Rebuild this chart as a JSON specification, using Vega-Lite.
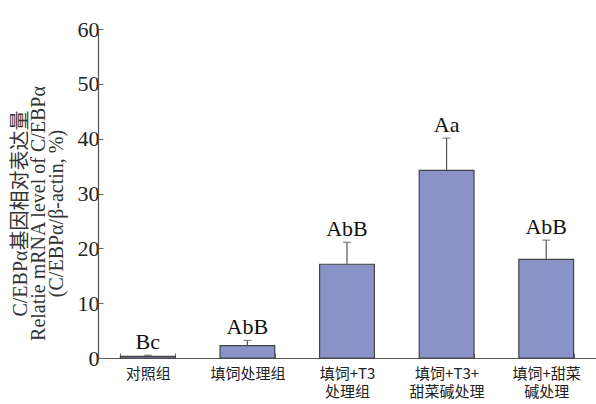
{
  "$schema": "https://vega.github.io/schema/vega-lite/v6.json",
  "width": 498,
  "height": 329,
  "autosize": {"type": "none"},
  "padding": {"left": 98, "top": 29, "right": 0, "bottom": 46},
  "background": "white",
  "config": {"view": {"stroke": null}, "font": "Liberation Serif"},
  "data": {
    "values": [
      {"group": "对照组", "value": 0.3, "err": 0.5, "sig": "Bc"},
      {"group": "填饲处理组", "value": 2.25, "err": 3.2, "sig": "AbB"},
      {"group": "填饲+T3|处理组", "value": 17.1, "err": 21.1, "sig": "AbB"},
      {"group": "填饲+T3+|甜菜碱处理", "value": 34.2, "err": 40.1, "sig": "Aa"},
      {"group": "填饲+甜菜|碱处理", "value": 18.0, "err": 21.5, "sig": "AbB"}
    ]
  },
  "encoding": {
    "x": {
      "field": "group",
      "type": "nominal",
      "sort": null,
      "scale": {"paddingInner": 0.45, "paddingOuter": 0.225},
      "axis": {
        "title": null,
        "labelAngle": 0,
        "labelExpr": "split(datum.label, '|')",
        "labelFont": "Noto Sans CJK SC",
        "labelFontSize": 15,
        "labelLineHeight": 18,
        "labelColor": "#222",
        "labelPadding": 13,
        "tickBand": "extent",
        "tickSize": -5,
        "tickColor": "#666",
        "domainColor": "#555",
        "domainWidth": 1.2,
        "grid": false
      }
    }
  },
  "layer": [
    {
      "mark": {"type": "bar", "color": "#8a93c8", "stroke": "#444", "strokeWidth": 1.2},
      "encoding": {
        "y": {
          "field": "value",
          "type": "quantitative",
          "scale": {"domain": [0, 60], "nice": false},
          "axis": {
            "values": [0, 10, 20, 30, 40, 50, 60],
            "grid": false,
            "tickSize": -5,
            "tickColor": "#666",
            "domainColor": "#555",
            "domainWidth": 1.2,
            "labelFont": "Liberation Serif",
            "labelFontSize": 22,
            "labelColor": "#222",
            "labelPadding": 4,
            "title": ["C/EBPα基因相对表达量", "Relatie mRNA level of C/EBPα", "(C/EBPα/β-actin, %)"],
            "titleFont": "Liberation Serif, Noto Sans CJK SC",
            "titleFontSize": 20,
            "titleFontWeight": "normal",
            "titleColor": "#333",
            "titleLineHeight": 18,
            "titleAngle": -90,
            "titleAlign": "center",
            "titleBaseline": "middle",
            "titleX": -78,
            "titleY": 184
          }
        }
      }
    },
    {
      "mark": {"type": "rule", "color": "#555", "strokeWidth": 1.2},
      "encoding": {"y": {"field": "value", "type": "quantitative"}, "y2": {"field": "err"}}
    },
    {
      "mark": {"type": "tick", "color": "#555", "thickness": 1.2, "size": 8, "orient": "horizontal"},
      "encoding": {"y": {"field": "err", "type": "quantitative"}}
    },
    {
      "mark": {"type": "text", "font": "Liberation Serif", "fontSize": 22, "baseline": "alphabetic", "dy": -6, "color": "#111"},
      "encoding": {"y": {"field": "err", "type": "quantitative"}, "text": {"field": "sig"}}
    }
  ]
}
